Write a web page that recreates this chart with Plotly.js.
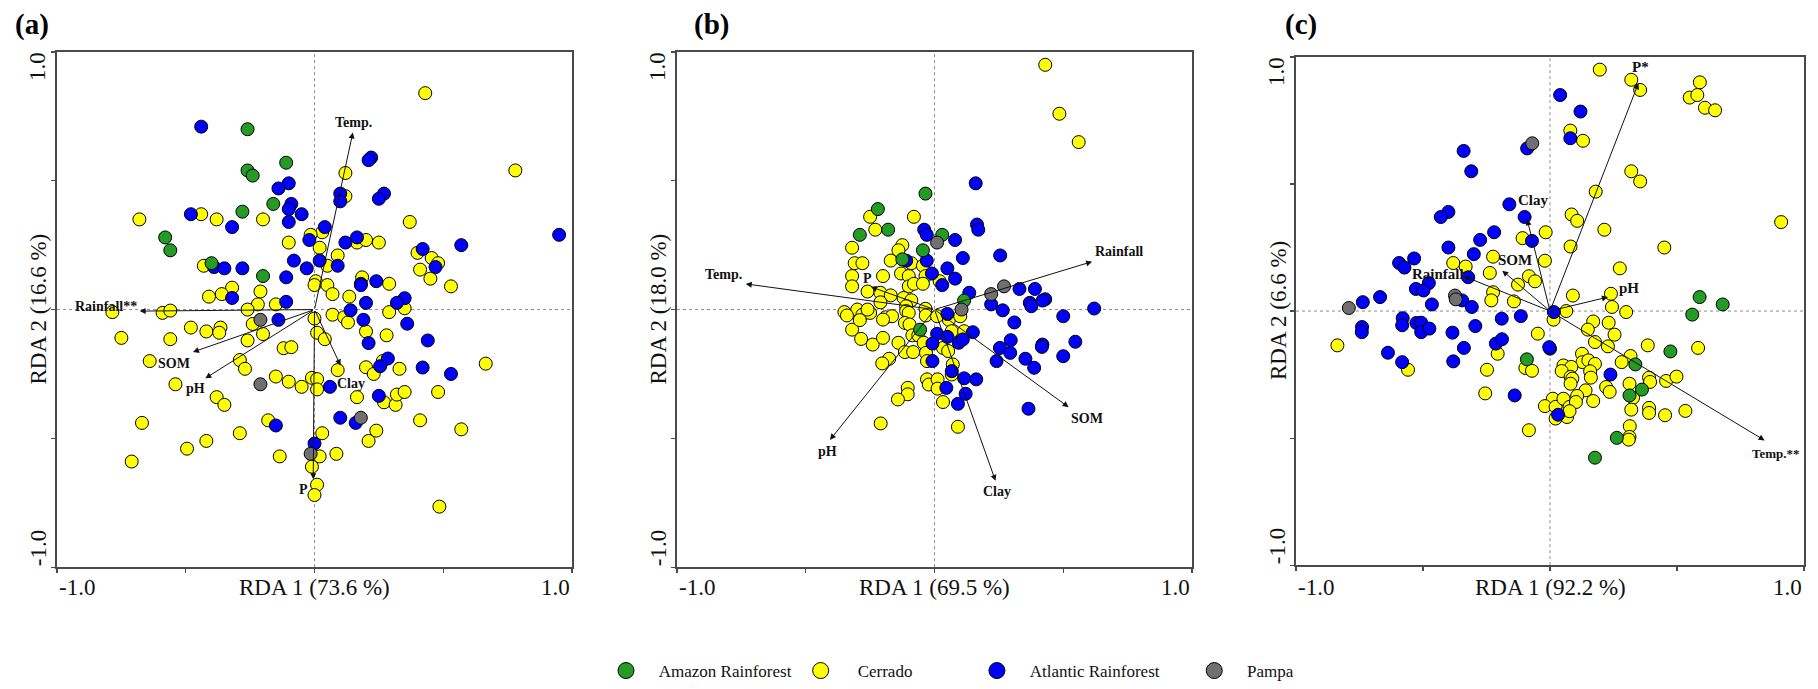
<!DOCTYPE html>
<html>
<head>
<meta charset="utf-8">
<script src="https://cdn.plot.ly/plotly-3.0.1.min.js"></script>
<style>html,body{margin:0;padding:0;background:#fff;}#chart{width:1818px;height:689px;}</style>
</head>
<body>
<div id="chart"></div>
<script>
// ---------------- DATA ----------------
const catNames = ['Amazon Rainforest', 'Cerrado', 'Atlantic Rainforest', 'Pampa'];
const axisXTitles = ['RDA 1 (73.6 %)', 'RDA 1 (69.5 %)', 'RDA 1 (92.2 %)'];
const axisYTitles = ['RDA 2 (16.6 %)', 'RDA 2 (18.0 %)', 'RDA 2 (6.6 %)'];
const panelLetters = ['(a)', '(b)', '(c)'];
const tickLabels = ['-1.0', '1.0'];

// Panel (a) sample scores [RDA1, RDA2]
const a_amazon = [[-0.26,0.70],[-0.11,0.57],[-0.26,0.54],[-0.24,0.52],[-0.16,0.41],[-0.28,0.38],[-0.58,0.28],[-0.56,0.23],[-0.40,0.18],[-0.20,0.13]];
const a_cerrado = [[0.43,0.84],[0.78,0.54],[0.12,0.53],[0.12,0.44],[-0.44,0.37],[-0.38,0.35],[-0.20,0.35],[-0.68,0.35],[0.37,0.34],[0.03,0.30],[-0.015,0.29],[-0.10,0.26],[0.02,0.24],[0.165,0.26],[0.20,0.27],[0.25,0.26],[0.40,0.22],[0.455,0.20],[0.48,0.18],[0.09,0.21],[0.05,0.17],[-0.43,0.17],[0.41,0.155],[0.45,0.12],[0.53,0.09],[0.185,0.125],[0.29,0.10],[0.005,0.11],[0.0,0.095],[0.05,0.095],[0.07,0.06],[0.135,0.05],[-0.32,0.085],[-0.36,0.06],[-0.41,0.05],[-0.21,0.07],[-0.22,0.02],[-0.15,0.02],[-0.26,0.0],[0.35,0.005],
  [-0.785,-0.01],[-0.59,-0.013],[-0.56,-0.004],[0.29,-0.01],[-0.24,-0.056],[0.0,-0.035],[0.07,-0.02],[0.115,-0.03],[0.13,-0.05],[-0.48,-0.07],[-0.365,-0.07],[-0.42,-0.085],[-0.37,-0.09],[-0.20,-0.095],[-0.75,-0.11],[-0.56,-0.115],[-0.26,-0.12],[0.01,-0.09],[0.04,-0.115],[0.20,-0.085],[0.28,-0.10],[-0.12,-0.15],[-0.09,-0.146],[-0.64,-0.20],[-0.29,-0.196],[-0.27,-0.23],[0.265,-0.20],[0.20,-0.224],[0.23,-0.25],[0.33,-0.23],[0.665,-0.21],[0.09,-0.235],[-0.15,-0.26],[-0.10,-0.28],[-0.05,-0.30],[-0.01,-0.265],[0.01,-0.27],[0.01,-0.31],[-0.54,-0.29],[-0.38,-0.34],[-0.35,-0.37],[0.165,-0.34],[0.27,-0.36],[0.315,-0.37],[0.32,-0.33],[0.35,-0.32],[0.48,-0.32],[0.41,-0.43],[0.57,-0.465],[0.24,-0.47],[0.21,-0.51],[-0.18,-0.43],[-0.67,-0.44],[-0.29,-0.48],[-0.42,-0.51],[-0.495,-0.54],[0.03,-0.48],[0.02,-0.57],[0.085,-0.56],[-0.135,-0.57],[-0.71,-0.59],[-0.01,-0.61],[0.01,-0.68],[0.0,-0.72],[0.485,-0.765]];
const a_atlantic = [[-0.44,0.71],[0.22,0.59],[0.21,0.58],[-0.10,0.49],[-0.14,0.47],[0.10,0.45],[0.10,0.42],[0.27,0.45],[0.25,0.43],[-0.09,0.41],[-0.10,0.39],[-0.05,0.37],[-0.48,0.37],[-0.32,0.32],[-0.10,0.34],[0.04,0.32],[-0.02,0.27],[0.95,0.29],[0.57,0.25],[0.12,0.26],[0.165,0.28],[0.42,0.235],[0.47,0.165],[0.02,0.19],[0.09,0.17],[-0.08,0.19],[-0.03,0.16],[-0.39,0.165],[-0.35,0.16],[-0.28,0.16],[-0.11,0.125],[0.18,0.10],[0.18,0.095],[0.24,0.11],[-0.32,0.045],[-0.11,0.03],[0.20,0.026],[0.14,-0.003],[0.35,0.044],[0.32,0.026],
  [-0.14,-0.04],[0.19,-0.04],[0.36,-0.055],[0.21,-0.13],[0.44,-0.12],[0.285,-0.19],[0.255,-0.22],[0.42,-0.225],[0.53,-0.25],[0.06,-0.30],[0.25,-0.335],[0.10,-0.42],[0.16,-0.44],[-0.15,-0.45],[0.0,-0.52]];
const a_pampa = [[-0.21,-0.04],[-0.21,-0.29],[0.18,-0.42],[-0.015,-0.56]];
// Panel (a) environmental vectors
const a_vecNames = ['Temp.', 'Rainfall**', 'SOM', 'pH', 'Clay', 'P'];
const a_vecX = [0.149, -0.679, -0.472, -0.424, 0.101, -0.005];
const a_vecY = [0.687, -0.006, -0.165, -0.267, -0.217, -0.659];

// Panel (b)
const b_amazon = [[-0.035,0.45],[-0.22,0.39],[-0.18,0.31],[-0.29,0.29],[0.03,0.29],[-0.045,0.23],[-0.125,0.195],[0.115,0.035],[-0.056,-0.078]];
const b_cerrado = [[0.43,0.95],[0.485,0.76],[0.56,0.65],[-0.25,0.36],[-0.08,0.36],[-0.23,0.31],[-0.32,0.24],[-0.125,0.25],[-0.14,0.23],[-0.31,0.18],[-0.28,0.18],[-0.17,0.19],[-0.09,0.18],[-0.045,0.17],[-0.32,0.13],[-0.20,0.13],[-0.13,0.14],[-0.10,0.13],[-0.035,0.13],[0.02,0.11],[-0.32,0.09],[-0.26,0.07],[-0.21,0.065],[-0.17,0.055],[-0.10,0.09],[-0.08,0.10],[-0.045,0.10],[-0.12,0.045],[-0.09,0.036],[-0.11,0.013],[-0.21,0.028],
  [-0.35,-0.01],[-0.30,0.0],[-0.28,-0.02],[-0.25,-0.013],[-0.34,-0.023],[-0.26,0.0],[-0.19,-0.03],[-0.165,-0.026],[-0.11,-0.006],[-0.10,-0.013],[-0.035,0.003],[-0.034,-0.023],[0.01,-0.026],[0.056,-0.04],[0.10,-0.026],[-0.32,-0.078],[-0.285,-0.114],[-0.24,-0.136],[-0.20,-0.11],[-0.20,-0.039],[-0.29,-0.041],[-0.115,-0.052],[-0.097,-0.058],[-0.086,-0.10],[-0.063,-0.10],[0.067,-0.084],[0.115,-0.084],[0.033,-0.149],[0.053,-0.161],[-0.14,-0.129],[-0.042,-0.129],[-0.115,-0.165],[-0.083,-0.165],[-0.033,-0.168],[-0.029,-0.20],[0.071,-0.213],[0.067,-0.252],[-0.176,-0.191],[-0.203,-0.209],[-0.029,-0.271],[-0.022,-0.291],[0.012,-0.271],[0.012,-0.307],[-0.104,-0.304],[-0.104,-0.329],[-0.142,-0.349],[0.033,-0.359],[-0.209,-0.442],[0.091,-0.455]];
const b_atlantic = [[0.16,0.49],[-0.04,0.31],[-0.03,0.29],[0.08,0.27],[0.165,0.33],[0.17,0.31],[0.255,0.21],[0.11,0.20],[-0.11,0.19],[-0.03,0.19],[0.05,0.16],[-0.01,0.14],[0.08,0.12],[0.03,0.095],[0.135,0.065],[0.33,0.08],[0.39,0.08],[0.43,0.04],[0.42,0.035],[0.37,0.026],[0.22,0.02],
  [0.05,-0.017],[0.265,-0.003],[0.376,0.013],[0.62,0.004],[0.50,-0.026],[0.31,-0.05],[0.01,-0.094],[0.05,-0.106],[0.149,-0.088],[-0.008,-0.132],[0.094,-0.129],[0.11,-0.116],[-0.008,-0.20],[0.067,-0.239],[0.046,-0.304],[0.115,-0.267],[0.162,-0.271],[0.091,-0.366],[0.121,-0.327],[0.254,-0.149],[0.296,-0.119],[0.294,-0.168],[0.241,-0.20],[0.353,-0.191],[0.387,-0.226],[0.419,-0.136],[0.417,-0.145],[0.50,-0.181],[0.547,-0.125],[0.365,-0.385]];
const b_pampa = [[0.01,0.26],[0.22,0.06],[0.27,0.09],[0.105,0.0]];
const b_vecNames = ['Temp.', 'P', 'Rainfall', 'SOM', 'Clay', 'pH'];
const b_vecX = [-0.733, -0.247, 0.612, 0.521, 0.237, -0.406];
const b_vecY = [0.0995, 0.088, 0.186, -0.379, -0.665, -0.506];

// Panel (c)
const c_amazon = [[0.589,0.055],[0.68,0.026],[0.56,-0.014],[-0.091,-0.19],[0.474,-0.159],[0.336,-0.21],[0.313,-0.332],[0.362,-0.309],[0.263,-0.499],[0.177,-0.577]];
const c_cerrado = [[0.196,0.95],[0.32,0.91],[0.355,0.87],[0.59,0.90],[0.55,0.84],[0.58,0.85],[0.61,0.80],[0.65,0.79],[0.08,0.71],[0.13,0.67],[0.32,0.55],[0.355,0.51],[0.18,0.47],[0.91,0.35],[0.085,0.38],[0.107,0.355],[0.214,0.32],[-0.108,0.287],[-0.017,0.31],[0.081,0.254],[0.45,0.25],[-0.381,0.189],[-0.332,0.175],[-0.224,0.214],[-0.237,0.15],[-0.02,0.198],[0.275,0.168],[-0.126,0.104],[-0.083,0.137],[-0.059,0.117],[-0.224,0.074],[-0.231,0.042],[-0.142,0.038],[0.09,0.061],[0.24,0.068],[0.244,0.016],
  [0.064,0.0],[0.30,-0.004],[0.014,-0.034],[0.17,-0.041],[0.231,-0.046],[0.149,-0.073],[0.254,-0.093],[0.177,-0.122],[0.228,-0.139],[-0.048,-0.089],[-0.837,-0.135],[-0.559,-0.231],[-0.206,-0.168],[-0.248,-0.231],[-0.255,-0.324],[-0.097,-0.224],[-0.071,-0.235],[0.385,-0.135],[0.583,-0.145],[0.317,-0.177],[0.282,-0.201],[0.126,-0.168],[0.128,-0.201],[0.151,-0.194],[0.177,-0.208],[0.053,-0.214],[0.084,-0.22],[0.046,-0.236],[0.158,-0.237],[0.161,-0.262],[0.081,-0.259],[0.088,-0.266],[0.39,-0.262],[0.394,-0.279],[0.457,-0.275],[0.498,-0.258],[0.313,-0.286],[0.221,-0.299],[0.235,-0.318],[0.081,-0.286],[0.14,-0.312],[0.327,-0.341],[0.011,-0.345],[-0.02,-0.374],[0.022,-0.377],[0.053,-0.345],[0.077,-0.377],[0.107,-0.334],[0.102,-0.358],[0.17,-0.354],[0.022,-0.423],[0.067,-0.417],[0.077,-0.394],[0.32,-0.388],[0.39,-0.381],[0.39,-0.401],[0.453,-0.41],[0.533,-0.393],[-0.083,-0.469],[0.314,-0.453],[0.313,-0.495],[0.31,-0.506]];
const c_atlantic = [[0.04,0.85],[0.12,0.785],[0.08,0.68],[-0.09,0.64],[-0.34,0.63],[-0.31,0.55],[-0.16,0.42],[-0.40,0.39],[-0.43,0.37],[-0.10,0.37],[-0.22,0.31],[-0.275,0.28],[-0.071,0.276],[-0.40,0.25],[-0.30,0.224],[-0.535,0.207],[-0.594,0.189],[-0.573,0.171],[-0.322,0.133],[-0.477,0.11],[-0.528,0.087],[-0.498,0.081],[-0.669,0.055],[-0.737,0.035],[-0.465,0.026],[-0.346,0.042],[-0.308,0.016],
  [0.015,-0.004],[-0.19,-0.03],[-0.115,-0.02],[-0.294,-0.059],[-0.384,-0.085],[-0.58,-0.028],[-0.582,-0.056],[-0.526,-0.047],[-0.507,-0.046],[-0.507,-0.083],[-0.475,-0.069],[-0.74,-0.063],[-0.741,-0.083],[-0.638,-0.164],[-0.582,-0.201],[-0.381,-0.198],[-0.339,-0.145],[-0.213,-0.128],[-0.189,-0.111],[-0.139,-0.332],[0.0,-0.148],[-0.003,-0.142],[0.238,-0.25],[0.032,-0.408]];
const c_pampa = [[-0.07,0.66],[-0.792,0.012],[-0.374,0.061],[-0.371,0.046]];
const c_vecNames = ['P*', 'Clay', 'SOM', 'Rainfall', 'pH', 'Temp.**'];
const c_vecX = [0.348, -0.09, -0.188, -0.339, 0.228, 0.845];
const c_vecY = [0.896, 0.361, 0.159, 0.137, 0.055, -0.509];

// ---------------- STYLE ----------------
const W = 1818, H = 689;
const FONT = 'Liberation Serif, Times New Roman, serif';
const catColors = ['#249b24', '#ffff00', '#0000ff', '#707070'];
const panels = [
  {xa: 'x',  ya: 'y',  left: 57,   right: 572,  top: 52, bottom: 568, letterX: 13,
   groups: [a_cerrado, a_atlantic, a_amazon, a_pampa],
   vn: a_vecNames, vx: a_vecX, vy: a_vecY,
   lbl: [[1, 10, 14], [-34, 5, 14], [-19, -11, 14], [-10, -10, 14], [10, -18, 14], [-10, -10, 14]]},
  {xa: 'x2', ya: 'y2', left: 677,  right: 1192, top: 52, bottom: 568, letterX: 692,
   groups: [b_cerrado, b_atlantic, b_amazon, b_pampa],
   vn: b_vecNames, vx: b_vecX, vy: b_vecY,
   lbl: [[-22, 9, 14], [-3, 8, 14], [27, 10, 14], [18, -11, 14], [1, -11, 14], [-2, -12, 14]]},
  {xa: 'x3', ya: 'y3', left: 1296, right: 1804, top: 57, bottom: 566, letterX: 1283,
   groups: [c_cerrado, c_atlantic, c_amazon, c_pampa],
   vn: c_vecNames, vx: c_vecX, vy: c_vecY,
   lbl: [[2, 16, 15], [6, 19, 15], [13, 11, 15], [-26, 2, 15], [21, 9, 15], [11, -13, 13]]}
];
// order in which groups are drawn -> category index
const groupCat = [1, 2, 0, 3];

const px = v => v / W;
const py = v => 1 - v / H;

const data = [];
const shapes = [];
const annotations = [];
const layout = {
  width: W, height: H,
  margin: {l: 0, r: 0, t: 0, b: 0},
  paper_bgcolor: '#ffffff', plot_bgcolor: '#ffffff',
  font: {family: FONT, color: '#000'},
  showlegend: true,
  legend: {
    orientation: 'h', x: px(606), xanchor: 'left', y: py(672), yanchor: 'middle',
    font: {family: FONT, size: 17, color: '#111'}, bgcolor: 'rgba(0,0,0,0)',
    itemclick: false, itemdoubleclick: false
  },
  hovermode: false
};

panels.forEach((p, i) => {
  const sfx = i === 0 ? '' : String(i + 1);
  const axCommon = {
    range: [-1, 1], showgrid: false, zeroline: false, showline: true, mirror: true,
    linecolor: '#4a4a4a', linewidth: 1.6, ticks: 'outside', ticklen: 4, tickwidth: 1.2,
    tickcolor: '#4a4a4a', tickvals: [-1, -0.5, 0, 0.5, 1], showticklabels: false, fixedrange: true
  };
  layout['xaxis' + sfx] = Object.assign({}, axCommon, {domain: [px(p.left), px(p.right)], anchor: p.ya});
  layout['yaxis' + sfx] = Object.assign({}, axCommon, {domain: [py(p.bottom), py(p.top)], anchor: p.xa});

  // dotted zero lines
  shapes.push({type: 'line', xref: p.xa, yref: p.ya, x0: 0, x1: 0, y0: -1, y1: 1, layer: 'below',
               line: {color: '#8c8c8c', width: 1, dash: 'dot'}});
  shapes.push({type: 'line', xref: p.xa, yref: p.ya, x0: -1, x1: 1, y0: 0, y1: 0, layer: 'below',
               line: {color: '#8c8c8c', width: 1, dash: 'dot'}});

  // sample points
  p.groups.forEach((g, gi) => {
    const c = groupCat[gi];
    data.push({
      type: 'scatter', mode: 'markers', xaxis: p.xa, yaxis: p.ya,
      x: g.map(d => d[0]), y: g.map(d => d[1]), name: catNames[c], showlegend: false,
      marker: {size: 13, color: catColors[c], line: {color: '#000', width: 1}},
      hoverinfo: 'skip'
    });
  });

  // vectors
  p.vn.forEach((n, k) => {
    annotations.push({
      xref: p.xa, yref: p.ya, x: p.vx[k], y: p.vy[k], axref: p.xa, ayref: p.ya, ax: 0, ay: 0,
      text: '', showarrow: true, arrowhead: 2, arrowsize: 1.2, arrowwidth: 1, arrowcolor: '#111', standoff: 0
    });
    const o = p.lbl[k];
    annotations.push({
      xref: p.xa, yref: p.ya, x: p.vx[k], y: p.vy[k], xshift: o[0], yshift: o[1],
      text: '<b>' + n + '</b>', showarrow: false, xanchor: 'center', yanchor: 'middle',
      font: {family: FONT, size: o[2], color: '#111'}
    });
  });

  // tick labels
  const tf = {family: FONT, size: 23, color: '#111'};
  annotations.push({xref: 'paper', yref: 'paper', x: px(p.left), y: py(588), text: tickLabels[0],
    showarrow: false, xanchor: 'left', yanchor: 'middle', font: tf});
  annotations.push({xref: 'paper', yref: 'paper', x: px(p.right), y: py(588), text: tickLabels[1],
    showarrow: false, xanchor: 'right', yanchor: 'middle', font: tf});
  annotations.push({xref: 'paper', yref: 'paper', x: px(p.left - 19), y: py(p.top + 15), text: tickLabels[1],
    showarrow: false, xanchor: 'center', yanchor: 'middle', textangle: -90, font: tf});
  annotations.push({xref: 'paper', yref: 'paper', x: px(p.left - 19), y: py(p.bottom - 19), text: tickLabels[0],
    showarrow: false, xanchor: 'center', yanchor: 'middle', textangle: -90, font: tf});
  // axis titles
  annotations.push({xref: 'paper', yref: 'paper', x: px((p.left + p.right) / 2), y: py(588), text: axisXTitles[i],
    showarrow: false, xanchor: 'center', yanchor: 'middle', font: tf});
  annotations.push({xref: 'paper', yref: 'paper', x: px(p.left - 18), y: py((p.top + p.bottom) / 2), text: axisYTitles[i],
    showarrow: false, xanchor: 'center', yanchor: 'middle', textangle: -90, font: tf});
  // panel letter
  annotations.push({xref: 'paper', yref: 'paper', x: px(p.letterX), y: py(25), text: '<b>' + panelLetters[i] + '</b>',
    showarrow: false, xanchor: 'left', yanchor: 'middle', font: {family: FONT, size: 29, color: '#000'}});
});

// legend entries
const NB = '\u00a0';
const legendLead = [3, 4, 3, 3];
const legendTrail = [1, 14, 7, 0];
catNames.forEach((n, c) => {
  data.push({
    type: 'scatter', mode: 'markers', x: [null], y: [null], xaxis: 'x', yaxis: 'y',
    name: NB.repeat(legendLead[c]) + n + NB.repeat(legendTrail[c]), showlegend: true,
    marker: {size: 20, color: catColors[c], line: {color: '#000', width: 1}}, hoverinfo: 'skip'
  });
});

layout.shapes = shapes;
layout.annotations = annotations;
Plotly.newPlot('chart', data, layout, {displayModeBar: false, staticPlot: true});
</script>
</body>
</html>
